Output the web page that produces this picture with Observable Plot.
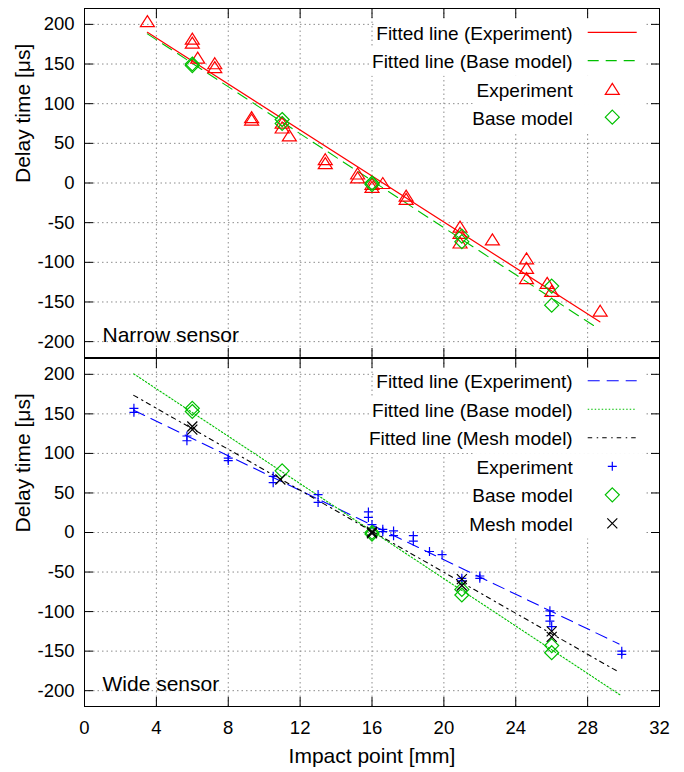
<!DOCTYPE html>
<html>
<head>
<meta charset="utf-8">
<script src="https://cdn.jsdelivr.net/npm/d3@7"></script>
<script src="https://cdn.jsdelivr.net/npm/@observablehq/plot@0.6"></script>
<style>
  html, body { margin: 0; padding: 0; background: #fff; }
  #chart svg { display: block; }
</style>
</head>
<body>
<div id="chart"></div>
<script>
// ---------- ticks ----------
const xTicks = [0, 4, 8, 12, 16, 20, 24, 28, 32];
const yTicks = [-200, -150, -100, -50, 0, 50, 100, 150, 200];

// ---------- Narrow sensor ----------
const narrowExpX = [3.5, 6.0, 6.0, 6.3, 7.25, 7.25, 9.3, 9.3, 11.0, 11.0, 11.4, 13.4, 13.4, 15.2, 15.2, 16.0, 16.0, 16.6, 17.9, 17.9, 20.9, 20.9, 20.9, 22.7, 24.6, 24.6, 24.6, 25.75, 26.0, 28.7];
const narrowExpY = [204, 182, 177, 158, 151, 146, 83, 80, 76, 70, 60, 30, 25, 12, 7, -1, -5, 0, -16, -20, -55, -63, -75, -71, -95, -107, -120, -126, -136, -161];
const narrowBaseX = [6.0, 6.0, 11.0, 11.0, 16.0, 16.0, 21.0, 21.0, 26.0, 26.0];
const narrowBaseY = [150, 148, 80, 75, 0, -2, -67, -74, -130, -154];
const narrowFitExpX = [3.5, 28.68];
const narrowFitExpY = [190, -175];
const narrowFitBaseX = [3.5, 28.55];
const narrowFitBaseY = [188, -183];

// ---------- Wide sensor ----------
const wideExpX = [2.75, 2.75, 5.7, 5.7, 8.0, 8.0, 10.5, 10.5, 13.0, 13.0, 15.8, 15.8, 16.0, 16.6, 16.6, 17.2, 17.2, 18.3, 18.3, 19.2, 19.9, 21.0, 21.0, 22.0, 22.0, 25.9, 25.9, 25.9, 26.0, 29.9, 29.9];
const wideExpY = [157, 152, 122, 116, 94, 91, 71, 63, 48, 38, 26, 19, 10, 4, 1, 2, -4, -4, -11, -24, -28, -58, -61, -55, -58, -99, -105, -112, -119, -150, -154];
const wideBaseX = [6, 6, 11, 16, 16, 21, 21, 26, 26];
const wideBaseY = [157, 153, 78, 0, -2, -72, -79, -143, -152];
const wideMeshX = [6, 6, 10.9, 16, 16, 21, 21, 26, 26];
const wideMeshY = [134, 130, 67, 1, -1, -59, -67, -125, -132];
const wideFitExpX = [2.74, 29.75];
const wideFitExpY = [154.5, -141];
const wideFitBaseX = [2.74, 29.83];
const wideFitBaseY = [200.6, -205.7];
const wideFitMeshX = [2.74, 29.7];
const wideFitMeshY = [173.4, -176];

// ---------- styling ----------
const FONT = "'Liberation Sans', Arial, sans-serif";
const RED = "#ff0000", GREEN = "#00c000", BLUE = "#0000ff", BLACK = "#000000";

const triSym = { draw(c) { c.moveTo(0, -5.5); c.lineTo(7, 5.5); c.lineTo(-7, 5.5); c.closePath(); } };
const diaSym = { draw(c) { c.moveTo(0, -7); c.lineTo(7, 0); c.lineTo(0, 7); c.lineTo(-7, 0); c.closePath(); } };
const plusSym = { draw(c) { c.moveTo(-4.5, 0); c.lineTo(4.5, 0); c.moveTo(0, -4.5); c.lineTo(0, 4.5); } };
const timesSym = { draw(c) { c.moveTo(-5, -5); c.lineTo(5, 5); c.moveTo(5, -5); c.lineTo(-5, 5); } };

const zip = (xs, ys) => xs.map((x, i) => ({x, y: ys[i]}));

const narrowLines = [
  {label: "Fitted line (Experiment)", xs: narrowFitExpX, ys: narrowFitExpY, color: RED, width: 1.2, dash: null},
  {label: "Fitted line (Base model)", xs: narrowFitBaseX, ys: narrowFitBaseY, color: GREEN, width: 1.1, dash: "11,7"}
];
const narrowPoints = [
  {label: "Experiment", xs: narrowExpX, ys: narrowExpY, color: RED, symbol: triSym},
  {label: "Base model", xs: narrowBaseX, ys: narrowBaseY, color: GREEN, symbol: diaSym}
];
const wideLines = [
  {label: "Fitted line (Experiment)", xs: wideFitExpX, ys: wideFitExpY, color: BLUE, width: 1.1, dash: "12,7"},
  {label: "Fitted line (Base model)", xs: wideFitBaseX, ys: wideFitBaseY, color: GREEN, width: 1.1, dash: "1.5,2"},
  {label: "Fitted line (Mesh model)", xs: wideFitMeshX, ys: wideFitMeshY, color: BLACK, width: 1.1, dash: "4.5,4.5,1.5,4"}
];
const widePoints = [
  {label: "Experiment", xs: wideExpX, ys: wideExpY, color: BLUE, symbol: plusSym},
  {label: "Base model", xs: wideBaseX, ys: wideBaseY, color: GREEN, symbol: diaSym},
  {label: "Mesh model", xs: wideMeshX, ys: wideMeshY, color: BLACK, symbol: timesSym}
];

function makePanel({height, marginTop, marginBottom, name, lines, points, xLabels}) {
  const gridStyle = {stroke: "#8c8c8c", strokeOpacity: 1, strokeWidth: 1, strokeDasharray: "1.5,3"};
  const marks = [
    Plot.gridX(xTicks, gridStyle),
    Plot.gridY(yTicks, gridStyle),
    ...lines.map(l => Plot.line(zip(l.xs, l.ys), {x: "x", y: "y", stroke: l.color, strokeWidth: l.width, strokeDasharray: l.dash})),
    ...points.map(p => Plot.dot(zip(p.xs, p.ys), {x: "x", y: "y", symbol: p.symbol, r: 5, stroke: p.color, fill: "none", strokeWidth: 1.2})),
    Plot.axisY(yTicks, {anchor: "left", tickSize: 0, tickPadding: 10, tickFormat: d => String(d), fontSize: 18.5, label: null}),
    Plot.axisY(yTicks, {anchor: "left", tickSize: -9, tickFormat: () => "", label: null}),
    Plot.axisY(yTicks, {anchor: "right", tickSize: -9, tickFormat: () => "", label: null}),
    Plot.axisX(xTicks, {anchor: "top", tickSize: -9, tickFormat: () => "", label: null}),
    Plot.axisX(xTicks, {anchor: "bottom", tickSize: -9, tickFormat: () => "", label: null}),
    Plot.text([name], {frameAnchor: "bottom-left", dx: 18, dy: -16, textAnchor: "start", lineAnchor: "bottom", fontSize: 21, fill: "black"}),
    Plot.text(["Delay time [μs]"], {frameAnchor: "left", dx: -61, rotate: -90, fontSize: 21, fill: "black"}),
    Plot.frame({stroke: "black", strokeWidth: 1})
  ];
  if (xLabels) {
    marks.push(Plot.axisX(xTicks, {anchor: "bottom", tickSize: 0, tickPadding: 14, tickFormat: d => String(d), fontSize: 18.5, label: null}));
    marks.push(Plot.text(["Impact point [mm]"], {frameAnchor: "bottom", dy: 42, lineAnchor: "top", fontSize: 21, fill: "black"}));
  }
  return Plot.plot({
    width: 684,
    height,
    marginLeft: 84,
    marginRight: 25,
    marginTop,
    marginBottom,
    style: {fontFamily: FONT, fontSize: "18.5px", color: "black", background: "white", overflow: "visible"},
    x: {domain: [0, 32]},
    y: {domain: [-220, 220]},
    marks
  });
}

function addLegend(svg, rows, frameTop, firstOffset, pitch) {
  const g = d3.select(svg).append("g").attr("font-family", FONT).attr("font-size", 19);
  rows.forEach((r, i) => {
    const cy = frameTop + firstOffset + pitch * i;
    const bg = g.append("rect");
    const t = g.append("text")
      .attr("x", 572.7).attr("y", cy).attr("dy", "0.35em")
      .attr("text-anchor", "end").attr("fill", "black").text(r.label);
    const bb = t.node().getBBox();
    bg.attr("x", bb.x - 2).attr("y", cy - pitch / 2).attr("width", 646 - (bb.x - 2)).attr("height", pitch).attr("fill", "white");
    if (r.symbol) {
      g.append("path").attr("transform", `translate(612.3,${cy - 1})`)
        .attr("d", d3.symbol(r.symbol)())
        .attr("fill", "none").attr("stroke", r.color).attr("stroke-width", 1.2);
    } else {
      g.append("line").attr("x1", 587.7).attr("x2", 636.7).attr("y1", cy - 1).attr("y2", cy - 1)
        .attr("stroke", r.color).attr("stroke-width", r.width)
        .attr("stroke-dasharray", r.dash);
    }
  });
}

const chartDiv = document.getElementById("chart");
const topPanel = makePanel({height: 358, marginTop: 8, marginBottom: 1, name: "Narrow sensor", lines: narrowLines, points: narrowPoints, xLabels: false});
const bottomPanel = makePanel({height: 414, marginTop: 0, marginBottom: 66, name: "Wide sensor", lines: wideLines, points: widePoints, xLabels: true});
chartDiv.appendChild(topPanel);
chartDiv.appendChild(bottomPanel);
addLegend(topPanel, [...narrowLines, ...narrowPoints], 8, 25.3, 28.3);
addLegend(bottomPanel, [...wideLines, ...widePoints], 0, 23.8, 28.5);
</script>
</body>
</html>
